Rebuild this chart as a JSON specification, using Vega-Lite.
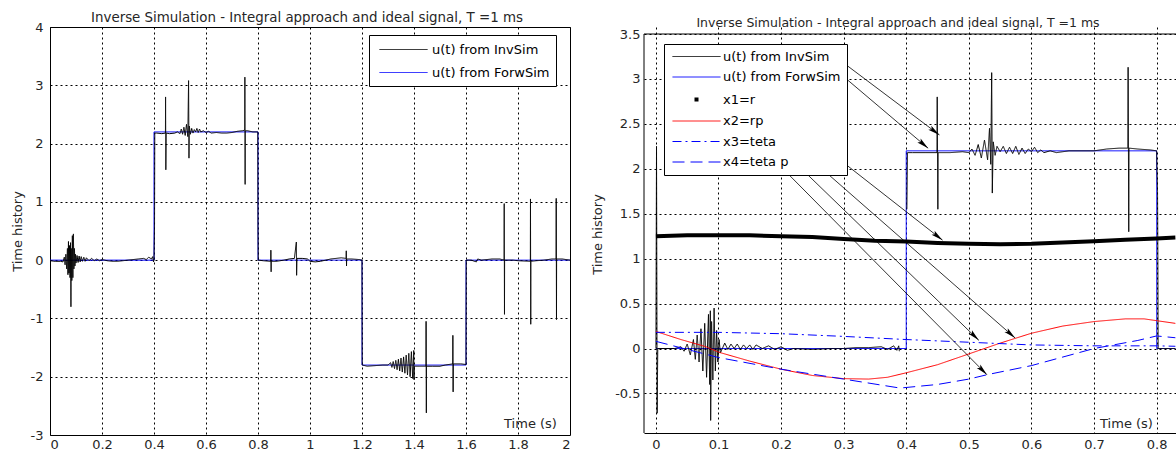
{
  "$schema": "https://vega.github.io/schema/vega-lite/v6.json",
  "padding": {"left": 10, "top": 10, "right": 0, "bottom": 0},
  "background": "white",
  "spacing": 20,
  "config": {
    "font": "DejaVu Sans",
    "view": {"stroke": "black", "strokeWidth": 1},
    "axis": {"grid": true, "gridColor": "black", "gridDash": [2, 3], "gridOpacity": 1, "gridWidth": 1, "domain": false, "ticks": false, "labelFont": "DejaVu Sans", "labelFontSize": 13, "labelColor": "#262626", "titleFont": "DejaVu Sans", "titleFontSize": 13, "titleFontWeight": "normal", "titleColor": "#262626"},
    "legend": {"labelFont": "DejaVu Sans", "labelFontSize": 13, "labelColor": "#000000", "strokeColor": "black", "fillColor": "white", "padding": 6, "symbolType": "M-3,0H3", "symbolSize": 256, "symbolStrokeWidth": 1, "symbolOffset": 20, "labelOffset": 20, "title": null, "labelLimit": 400},
    "title": {"font": "DejaVu Sans", "fontSize": 13.4, "fontWeight": "normal", "color": "#262626", "frame": "group"}
  },
  "datasets": {
    "leftInv": [
      {"t": 0, "u": -0.01}, {"t": 0.02, "u": -0.02}, {"t": 0.04, "u": -0.02}, {"t": 0.05, "u": -0.03},
      {"t": 0.055, "u": 0.05}, {"t": 0.058, "u": -0.08}, {"t": 0.061, "u": 0.1}, {"t": 0.064, "u": -0.15},
      {"t": 0.067, "u": 0.2}, {"t": 0.069, "u": -0.25}, {"t": 0.071, "u": 0.32}, {"t": 0.073, "u": -0.22},
      {"t": 0.075, "u": 0.25}, {"t": 0.077, "u": -0.3}, {"t": 0.079, "u": 0.3}, {"t": 0.0805, "u": -0.8},
      {"t": 0.082, "u": 0.2}, {"t": 0.084, "u": -0.35}, {"t": 0.086, "u": 0.42}, {"t": 0.088, "u": -0.3},
      {"t": 0.09, "u": 0.45}, {"t": 0.092, "u": -0.15}, {"t": 0.094, "u": 0.2}, {"t": 0.096, "u": -0.1},
      {"t": 0.098, "u": 0.1}, {"t": 0.1, "u": -0.05}, {"t": 0.104, "u": 0.08}, {"t": 0.108, "u": -0.04},
      {"t": 0.112, "u": 0.07}, {"t": 0.116, "u": -0.03}, {"t": 0.12, "u": 0.06}, {"t": 0.125, "u": -0.02},
      {"t": 0.13, "u": 0.05}, {"t": 0.135, "u": -0.02}, {"t": 0.14, "u": 0.04}, {"t": 0.15, "u": -0.01},
      {"t": 0.16, "u": 0.03}, {"t": 0.17, "u": -0.01}, {"t": 0.18, "u": 0.02}, {"t": 0.19, "u": -0.01},
      {"t": 0.2, "u": 0.01}, {"t": 0.22, "u": -0.01}, {"t": 0.24, "u": -0.02}, {"t": 0.26, "u": -0.02},
      {"t": 0.28, "u": -0.01}, {"t": 0.3, "u": 0}, {"t": 0.32, "u": 0.01}, {"t": 0.34, "u": 0.02},
      {"t": 0.36, "u": 0.03}, {"t": 0.37, "u": 0.01}, {"t": 0.38, "u": 0.05}, {"t": 0.39, "u": 0.02},
      {"t": 0.395, "u": 0.06}, {"t": 0.398, "u": -0.03}, {"t": 0.4, "u": 0}, {"t": 0.401, "u": 0.25},
      {"t": 0.402, "u": 0.55}, {"t": 0.403, "u": 2.18}, {"t": 0.41, "u": 2.18}, {"t": 0.43, "u": 2.17},
      {"t": 0.444, "u": 2.18}, {"t": 0.4445, "u": 2.8}, {"t": 0.4455, "u": 1.55}, {"t": 0.447, "u": 2.18},
      {"t": 0.46, "u": 2.17}, {"t": 0.48, "u": 2.18}, {"t": 0.49, "u": 2.2}, {"t": 0.5, "u": 2.17},
      {"t": 0.505, "u": 2.25}, {"t": 0.51, "u": 2.16}, {"t": 0.515, "u": 2.28}, {"t": 0.52, "u": 2.14},
      {"t": 0.525, "u": 2.33}, {"t": 0.53, "u": 2.12}, {"t": 0.533, "u": 3.08}, {"t": 0.5345, "u": 1.75},
      {"t": 0.536, "u": 2.3}, {"t": 0.54, "u": 2.16}, {"t": 0.545, "u": 2.26}, {"t": 0.55, "u": 2.18},
      {"t": 0.555, "u": 2.24}, {"t": 0.56, "u": 2.2}, {"t": 0.565, "u": 2.26}, {"t": 0.57, "u": 2.19},
      {"t": 0.575, "u": 2.25}, {"t": 0.58, "u": 2.2}, {"t": 0.59, "u": 2.22}, {"t": 0.6, "u": 2.19},
      {"t": 0.61, "u": 2.21}, {"t": 0.62, "u": 2.18}, {"t": 0.64, "u": 2.19}, {"t": 0.66, "u": 2.18},
      {"t": 0.68, "u": 2.18}, {"t": 0.7, "u": 2.19}, {"t": 0.72, "u": 2.21}, {"t": 0.74, "u": 2.22},
      {"t": 0.749, "u": 2.23}, {"t": 0.7495, "u": 3.14}, {"t": 0.7505, "u": 1.3}, {"t": 0.751, "u": 2.22},
      {"t": 0.76, "u": 2.22}, {"t": 0.78, "u": 2.2}, {"t": 0.799, "u": 2.2}, {"t": 0.8, "u": 0.57},
      {"t": 0.801, "u": 0}, {"t": 0.82, "u": -0.01}, {"t": 0.849, "u": -0.02}, {"t": 0.8495, "u": 0.17},
      {"t": 0.8505, "u": -0.2}, {"t": 0.851, "u": -0.02}, {"t": 0.87, "u": -0.02}, {"t": 0.9, "u": 0},
      {"t": 0.92, "u": 0.02}, {"t": 0.94, "u": 0.03}, {"t": 0.9475, "u": 0.31}, {"t": 0.9485, "u": -0.26},
      {"t": 0.95, "u": 0.03}, {"t": 0.97, "u": 0.03}, {"t": 0.99, "u": 0.02}, {"t": 1.0, "u": -0.02},
      {"t": 1.02, "u": -0.03}, {"t": 1.04, "u": -0.02}, {"t": 1.06, "u": 0}, {"t": 1.08, "u": 0.02},
      {"t": 1.1, "u": 0.03}, {"t": 1.12, "u": 0.04}, {"t": 1.139, "u": 0.03}, {"t": 1.1395, "u": 0.16},
      {"t": 1.1405, "u": -0.1}, {"t": 1.141, "u": 0.02}, {"t": 1.16, "u": 0.02}, {"t": 1.19, "u": 0.01},
      {"t": 1.2, "u": 0}, {"t": 1.201, "u": -1.8}, {"t": 1.22, "u": -1.82}, {"t": 1.25, "u": -1.81},
      {"t": 1.28, "u": -1.8}, {"t": 1.3, "u": -1.8}, {"t": 1.31, "u": -1.76}, {"t": 1.315, "u": -1.84},
      {"t": 1.32, "u": -1.74}, {"t": 1.325, "u": -1.86}, {"t": 1.33, "u": -1.72}, {"t": 1.335, "u": -1.88},
      {"t": 1.34, "u": -1.7}, {"t": 1.345, "u": -1.9}, {"t": 1.35, "u": -1.68}, {"t": 1.355, "u": -1.92},
      {"t": 1.36, "u": -1.66}, {"t": 1.365, "u": -1.94}, {"t": 1.37, "u": -1.63}, {"t": 1.375, "u": -1.97},
      {"t": 1.38, "u": -1.6}, {"t": 1.385, "u": -2.0}, {"t": 1.39, "u": -1.57}, {"t": 1.395, "u": -2.03},
      {"t": 1.399, "u": -1.55}, {"t": 1.4, "u": -2.05}, {"t": 1.401, "u": -1.82}, {"t": 1.42, "u": -1.82},
      {"t": 1.446, "u": -1.82}, {"t": 1.4465, "u": -1.05}, {"t": 1.4475, "u": -2.62}, {"t": 1.448, "u": -1.82},
      {"t": 1.47, "u": -1.82}, {"t": 1.5, "u": -1.82}, {"t": 1.52, "u": -1.8}, {"t": 1.549, "u": -1.78},
      {"t": 1.5495, "u": -1.29}, {"t": 1.5505, "u": -2.26}, {"t": 1.551, "u": -1.78}, {"t": 1.58, "u": -1.78},
      {"t": 1.6, "u": -1.79}, {"t": 1.601, "u": 0}, {"t": 1.62, "u": 0}, {"t": 1.64, "u": -0.03},
      {"t": 1.645, "u": 0.02}, {"t": 1.66, "u": 0}, {"t": 1.7, "u": 0.02}, {"t": 1.73, "u": 0.02},
      {"t": 1.7465, "u": 0}, {"t": 1.747, "u": 0.97}, {"t": 1.748, "u": -0.93}, {"t": 1.7485, "u": 0},
      {"t": 1.78, "u": 0}, {"t": 1.8, "u": -0.01}, {"t": 1.8475, "u": -0.02}, {"t": 1.848, "u": 1.05},
      {"t": 1.849, "u": -1.1}, {"t": 1.8495, "u": -0.02}, {"t": 1.87, "u": -0.01}, {"t": 1.9, "u": 0},
      {"t": 1.93, "u": 0.02}, {"t": 1.9465, "u": 0.02}, {"t": 1.947, "u": 1.06}, {"t": 1.948, "u": -1.02},
      {"t": 1.9485, "u": 0.02}, {"t": 1.97, "u": 0.02}, {"t": 2.0, "u": 0}
    ],
    "leftFwd": [
      {"t": 0, "u": 0}, {"t": 0.4, "u": 0}, {"t": 0.4, "u": 2.2}, {"t": 0.8, "u": 2.2}, {"t": 0.8, "u": 0},
      {"t": 1.2, "u": 0}, {"t": 1.2, "u": -1.8}, {"t": 1.6, "u": -1.8}, {"t": 1.6, "u": 0}, {"t": 2.0, "u": 0}
    ],
    "rightInv": [
      {"g": 1, "t": 0, "u": 0}, {"g": 1, "t": 0.001, "u": 2.25}, {"g": 1, "t": 0.002, "u": -0.72}, {"g": 1, "t": 0.003, "u": 0},
      {"g": 1, "t": 0.03, "u": 0}, {"g": 1, "t": 0.04, "u": 0.02}, {"g": 1, "t": 0.045, "u": -0.03}, {"g": 1, "t": 0.05, "u": 0.05},
      {"g": 1, "t": 0.055, "u": -0.07}, {"g": 1, "t": 0.06, "u": 0.1}, {"g": 1, "t": 0.063, "u": -0.12}, {"g": 1, "t": 0.066, "u": 0.15},
      {"g": 1, "t": 0.069, "u": -0.15}, {"g": 1, "t": 0.072, "u": 0.22}, {"g": 1, "t": 0.075, "u": -0.25}, {"g": 1, "t": 0.078, "u": 0.28},
      {"g": 1, "t": 0.081, "u": -0.32}, {"g": 1, "t": 0.084, "u": 0.38}, {"g": 1, "t": 0.086, "u": -0.4}, {"g": 1, "t": 0.087, "u": 0.42},
      {"g": 1, "t": 0.0875, "u": -0.8}, {"g": 1, "t": 0.089, "u": 0.3}, {"g": 1, "t": 0.091, "u": -0.35}, {"g": 1, "t": 0.093, "u": 0.45},
      {"g": 1, "t": 0.095, "u": -0.25}, {"g": 1, "t": 0.097, "u": 0.2}, {"g": 1, "t": 0.099, "u": -0.15}, {"g": 1, "t": 0.101, "u": 0.1},
      {"g": 1, "t": 0.103, "u": -0.05}, {"g": 1, "t": 0.11, "u": 0.06}, {"g": 1, "t": 0.115, "u": -0.01}, {"g": 1, "t": 0.12, "u": 0.05},
      {"g": 1, "t": 0.125, "u": 0}, {"g": 1, "t": 0.13, "u": 0.05}, {"g": 1, "t": 0.135, "u": -0.01}, {"g": 1, "t": 0.14, "u": 0.04},
      {"g": 1, "t": 0.145, "u": 0}, {"g": 1, "t": 0.15, "u": 0.04}, {"g": 1, "t": 0.155, "u": -0.01}, {"g": 1, "t": 0.16, "u": 0.04},
      {"g": 1, "t": 0.17, "u": 0}, {"g": 1, "t": 0.18, "u": 0.03}, {"g": 1, "t": 0.19, "u": -0.01}, {"g": 1, "t": 0.2, "u": 0.02},
      {"g": 1, "t": 0.21, "u": -0.02}, {"g": 1, "t": 0.22, "u": 0}, {"g": 1, "t": 0.25, "u": -0.01}, {"g": 1, "t": 0.28, "u": 0},
      {"g": 1, "t": 0.3, "u": 0}, {"g": 1, "t": 0.32, "u": 0.01}, {"g": 1, "t": 0.34, "u": 0.01}, {"g": 1, "t": 0.36, "u": 0.02},
      {"g": 1, "t": 0.37, "u": -0.01}, {"g": 1, "t": 0.38, "u": 0.03}, {"g": 1, "t": 0.385, "u": -0.02}, {"g": 1, "t": 0.388, "u": 0.03},
      {"g": 1, "t": 0.389, "u": -0.03},
      {"g": 2, "t": 0.401, "u": 1.55}, {"g": 2, "t": 0.402, "u": 2.18}, {"g": 2, "t": 0.41, "u": 2.18}, {"g": 2, "t": 0.43, "u": 2.18},
      {"g": 2, "t": 0.449, "u": 2.18}, {"g": 2, "t": 0.4495, "u": 2.8}, {"g": 2, "t": 0.4505, "u": 1.55}, {"g": 2, "t": 0.451, "u": 2.18},
      {"g": 2, "t": 0.47, "u": 2.18}, {"g": 2, "t": 0.49, "u": 2.19}, {"g": 2, "t": 0.5, "u": 2.18}, {"g": 2, "t": 0.505, "u": 2.22},
      {"g": 2, "t": 0.51, "u": 2.15}, {"g": 2, "t": 0.515, "u": 2.27}, {"g": 2, "t": 0.52, "u": 2.12}, {"g": 2, "t": 0.525, "u": 2.32},
      {"g": 2, "t": 0.53, "u": 2.1}, {"g": 2, "t": 0.533, "u": 2.45}, {"g": 2, "t": 0.535, "u": 2.05}, {"g": 2, "t": 0.5365, "u": 3.07},
      {"g": 2, "t": 0.5375, "u": 1.73}, {"g": 2, "t": 0.539, "u": 2.3}, {"g": 2, "t": 0.542, "u": 2.15}, {"g": 2, "t": 0.545, "u": 2.25},
      {"g": 2, "t": 0.55, "u": 2.19}, {"g": 2, "t": 0.555, "u": 2.25}, {"g": 2, "t": 0.56, "u": 2.17}, {"g": 2, "t": 0.565, "u": 2.24},
      {"g": 2, "t": 0.57, "u": 2.17}, {"g": 2, "t": 0.575, "u": 2.25}, {"g": 2, "t": 0.58, "u": 2.16}, {"g": 2, "t": 0.585, "u": 2.23},
      {"g": 2, "t": 0.59, "u": 2.17}, {"g": 2, "t": 0.595, "u": 2.22}, {"g": 2, "t": 0.6, "u": 2.19}, {"g": 2, "t": 0.605, "u": 2.24},
      {"g": 2, "t": 0.61, "u": 2.18}, {"g": 2, "t": 0.615, "u": 2.21}, {"g": 2, "t": 0.62, "u": 2.18}, {"g": 2, "t": 0.63, "u": 2.2},
      {"g": 2, "t": 0.64, "u": 2.18}, {"g": 2, "t": 0.65, "u": 2.19}, {"g": 2, "t": 0.66, "u": 2.2}, {"g": 2, "t": 0.68, "u": 2.2},
      {"g": 2, "t": 0.7, "u": 2.2}, {"g": 2, "t": 0.72, "u": 2.22}, {"g": 2, "t": 0.74, "u": 2.23}, {"g": 2, "t": 0.754, "u": 2.23},
      {"g": 2, "t": 0.7545, "u": 3.13}, {"g": 2, "t": 0.7555, "u": 1.3}, {"g": 2, "t": 0.756, "u": 2.23}, {"g": 2, "t": 0.77, "u": 2.22},
      {"g": 2, "t": 0.79, "u": 2.21}, {"g": 2, "t": 0.8, "u": 2.2}, {"g": 2, "t": 0.8015, "u": 1.75}, {"g": 2, "t": 0.802, "u": 1.05},
      {"g": 2, "t": 0.8025, "u": 0}, {"g": 2, "t": 0.83, "u": 0}
    ],
    "rightFwd": [
      {"t": 0, "u": 0}, {"t": 0.4, "u": 0}, {"t": 0.4, "u": 2.2}, {"t": 0.8, "u": 2.2}, {"t": 0.8, "u": 0}, {"t": 0.83, "u": 0}
    ],
    "x1": [
      {"t": 0, "u": 1.25}, {"t": 0.05, "u": 1.26}, {"t": 0.1, "u": 1.26}, {"t": 0.15, "u": 1.26}, {"t": 0.2, "u": 1.25},
      {"t": 0.25, "u": 1.24}, {"t": 0.3, "u": 1.22}, {"t": 0.35, "u": 1.2}, {"t": 0.4, "u": 1.19}, {"t": 0.45, "u": 1.175},
      {"t": 0.5, "u": 1.165}, {"t": 0.55, "u": 1.16}, {"t": 0.6, "u": 1.165}, {"t": 0.65, "u": 1.18}, {"t": 0.7, "u": 1.195},
      {"t": 0.75, "u": 1.21}, {"t": 0.8, "u": 1.225}, {"t": 0.83, "u": 1.235}
    ],
    "x2": [
      {"t": 0, "u": 0.19}, {"t": 0.04, "u": 0.1}, {"t": 0.08, "u": 0.02}, {"t": 0.1, "u": -0.04}, {"t": 0.15, "u": -0.14},
      {"t": 0.2, "u": -0.23}, {"t": 0.25, "u": -0.3}, {"t": 0.3, "u": -0.335}, {"t": 0.34, "u": -0.34}, {"t": 0.37, "u": -0.32},
      {"t": 0.4, "u": -0.27}, {"t": 0.45, "u": -0.18}, {"t": 0.5, "u": -0.06}, {"t": 0.55, "u": 0.06}, {"t": 0.6, "u": 0.17},
      {"t": 0.65, "u": 0.25}, {"t": 0.7, "u": 0.3}, {"t": 0.75, "u": 0.33}, {"t": 0.78, "u": 0.33}, {"t": 0.8, "u": 0.31}, {"t": 0.83, "u": 0.28}
    ],
    "x3": [
      {"t": 0, "u": 0.18}, {"t": 0.1, "u": 0.18}, {"t": 0.2, "u": 0.165}, {"t": 0.3, "u": 0.135}, {"t": 0.4, "u": 0.1},
      {"t": 0.5, "u": 0.07}, {"t": 0.6, "u": 0.04}, {"t": 0.7, "u": 0.03}, {"t": 0.8, "u": 0.03}, {"t": 0.83, "u": 0.025}
    ],
    "x4": [
      {"t": 0, "u": 0.08}, {"t": 0.1, "u": -0.1}, {"t": 0.2, "u": -0.23}, {"t": 0.3, "u": -0.34}, {"t": 0.39, "u": -0.44},
      {"t": 0.45, "u": -0.4}, {"t": 0.5, "u": -0.34}, {"t": 0.53, "u": -0.29}, {"t": 0.6, "u": -0.19}, {"t": 0.7, "u": 0},
      {"t": 0.77, "u": 0.09}, {"t": 0.8, "u": 0.14}, {"t": 0.83, "u": 0.12}
    ],
    "arrows": [
      {"t": 0.288, "u": 3.24, "t2": 0.453, "u2": 2.377},
      {"t": 0.306, "u": 2.99, "t2": 0.435, "u2": 2.229},
      {"t": 0.175, "u": 2.749, "t2": 0.458, "u2": 1.206},
      {"t": 0.184, "u": 2.496, "t2": 0.574, "u2": 0.117},
      {"t": 0.196, "u": 2.247, "t2": 0.516, "u2": 0.091},
      {"t": 0.205, "u": 1.987, "t2": 0.529, "u2": -0.292}
    ]
  },
  "resolve": {
    "scale": {"x": "independent", "y": "independent", "color": "independent", "strokeDash": "independent"},
    "legend": {"color": "independent", "strokeDash": "independent"}
  },
  "hconcat": [
    {
      "width": 520,
      "height": 408,
      "title": {"text": "Inverse Simulation - Integral approach and ideal signal, T =1 ms", "offset": -3, "dx": -3},
      "encoding": {
        "x": {"field": "t", "type": "quantitative", "scale": {"domain": [0, 2], "nice": false, "zero": false},
          "axis": {"values": [0, 0.2, 0.4, 0.6, 0.8, 1, 1.2, 1.4, 1.6, 1.8, 2], "labelExpr": "'' + datum.value", "labelPadding": 3, "title": "Time (s)", "titleX": 480, "titleY": -8, "titleBaseline": "alphabetic", "titleAlign": "center"}},
        "y": {"field": "u", "type": "quantitative", "scale": {"domain": [-3, 4], "nice": false, "zero": false},
          "axis": {"values": [-3, -2, -1, 0, 1, 2, 3, 4], "labelExpr": "'' + datum.value", "labelPadding": 7, "title": "Time history", "titleX": -26, "titleY": 204, "titleAngle": -90, "titleBaseline": "bottom", "titleAlign": "center"}},
        "order": {"value": null}
      },
      "layer": [
        {
          "data": {"name": "leftFwd"},
          "mark": {"type": "line", "strokeWidth": 1, "clip": true},
          "encoding": {
            "color": {"datum": "u(t) from ForwSim", "type": "nominal",
              "scale": {"domain": ["u(t) from InvSim", "u(t) from ForwSim"], "range": ["#000000", "#0000ff"]},
              "legend": {"orient": "none", "legendX": 319, "legendY": 8, "rowPadding": 7}},
            "strokeDash": {"datum": "u(t) from ForwSim", "type": "nominal",
              "scale": {"domain": ["u(t) from InvSim", "u(t) from ForwSim"], "range": [[1, 0], [1, 0]]}}
          }
        },
        {
          "data": {"name": "leftInv"},
          "mark": {"type": "line", "strokeWidth": 1, "clip": true},
          "encoding": {"color": {"datum": "u(t) from InvSim", "type": "nominal"}, "strokeDash": {"datum": "u(t) from InvSim", "type": "nominal"}}
        }
      ]
    },
    {
      "width": 532,
      "height": 406,
      "view": {"stroke": null},
      "title": {"text": "Inverse Simulation - Integral approach and ideal signal, T =1 ms", "offset": -2, "dx": -12, "fontSize": 12.5},
      "encoding": {
        "x": {"field": "t", "type": "quantitative", "scale": {"domain": [-0.019, 0.831], "nice": false, "zero": false},
          "axis": {"values": [0, 0.1, 0.2, 0.3, 0.4, 0.5, 0.6, 0.7, 0.8], "labelExpr": "'' + datum.value", "labelPadding": 5, "domain": true, "domainColor": "black", "title": "Time (s)", "titleX": 482, "titleY": -6, "titleBaseline": "alphabetic", "titleAlign": "center"}},
        "y": {"field": "u", "type": "quantitative", "scale": {"domain": [-0.94, 3.578], "nice": false, "zero": false},
          "axis": {"values": [-0.5, 0, 0.5, 1, 1.5, 2, 2.5, 3, 3.5], "labelExpr": "'' + datum.value", "labelPadding": 4, "title": "Time history", "titleX": -40, "titleY": 207, "titleAngle": -90, "titleBaseline": "bottom", "titleAlign": "center"}},
        "order": {"value": null}
      },
      "layer": [
        {
          "data": {"name": "rightFwd"},
          "mark": {"type": "line", "strokeWidth": 1, "clip": true},
          "encoding": {
            "color": {"datum": "u(t) from ForwSim", "type": "nominal",
              "scale": {"domain": ["u(t) from InvSim", "u(t) from ForwSim", "x1=r", "x2=rp", "x3=teta", "x4=teta p"], "range": ["#000000", "#0000ff", "#000000", "#ff0000", "#0000ff", "#0000ff"]},
              "legend": {"orient": "none", "legendX": 20, "legendY": 17, "rowPadding": 6.5,
                "encode": {"symbols": {"update": {"strokeWidth": {"signal": "datum.value === 'x1=r' ? 4 : 1"}}}}}},
            "strokeDash": {"datum": "u(t) from ForwSim", "type": "nominal",
              "scale": {"domain": ["u(t) from InvSim", "u(t) from ForwSim", "x1=r", "x2=rp", "x3=teta", "x4=teta p"], "range": [[1, 0], [1, 0], [0, 22, 4, 100], [1, 0], [9, 4, 2, 4], [12, 6]]}}
          }
        },
        {
          "data": {"name": "rightInv"},
          "mark": {"type": "line", "strokeWidth": 1, "clip": true},
          "encoding": {
            "detail": {"field": "g", "type": "nominal"},
            "color": {"datum": "u(t) from InvSim", "type": "nominal"},
            "strokeDash": {"datum": "u(t) from InvSim", "type": "nominal"}
          }
        },
        {
          "data": {"name": "x1"},
          "mark": {"type": "line", "strokeWidth": 4, "clip": true},
          "encoding": {"color": {"datum": "x1=r", "type": "nominal"}}
        },
        {
          "data": {"name": "x2"},
          "mark": {"type": "line", "strokeWidth": 1, "clip": true},
          "encoding": {"color": {"datum": "x2=rp", "type": "nominal"}, "strokeDash": {"datum": "x2=rp", "type": "nominal"}}
        },
        {
          "data": {"name": "x3"},
          "mark": {"type": "line", "strokeWidth": 1, "clip": true},
          "encoding": {"color": {"datum": "x3=teta", "type": "nominal"}, "strokeDash": {"datum": "x3=teta", "type": "nominal"}}
        },
        {
          "data": {"name": "x4"},
          "mark": {"type": "line", "strokeWidth": 1, "clip": true},
          "encoding": {"color": {"datum": "x4=teta p", "type": "nominal"}, "strokeDash": {"datum": "x4=teta p", "type": "nominal"}}
        },
        {
          "data": {"values": [{"u": 3.5}]},
          "mark": {"type": "rule", "color": "black", "strokeWidth": 1},
          "encoding": {"x": null, "order": null, "y": {"field": "u", "type": "quantitative"}}
        },
        {
          "data": {"values": [{"t": -0.019, "u": -0.94, "u2": 3.5}]},
          "mark": {"type": "rule", "color": "black", "strokeWidth": 1},
          "encoding": {"order": null, "x": {"field": "t", "type": "quantitative"}, "y": {"field": "u", "type": "quantitative"}, "y2": {"field": "u2"}}
        },
        {
          "data": {"name": "arrows"},
          "mark": {"type": "rule", "color": "#000000", "strokeWidth": 0.8},
          "encoding": {
            "order": null,
            "x2": {"field": "t2"},
            "y2": {"field": "u2"}
          }
        },
        {
          "data": {"name": "arrows"},
          "transform": [{"calculate": "atan2((datum.t2 - datum.t) * 625.9, (datum.u2 - datum.u) * 89.86) * 180 / PI", "as": "ang"}],
          "mark": {"type": "point", "shape": "M0,0L-0.42,2L0,1.6L0.42,2Z", "filled": true, "color": "#000000", "opacity": 1, "size": 144, "strokeWidth": 0},
          "encoding": {
            "order": null,
            "x": {"field": "t2", "type": "quantitative"},
            "y": {"field": "u2", "type": "quantitative"},
            "angle": {"field": "ang", "type": "quantitative", "scale": null}
          }
        }
      ]
    }
  ]
}
